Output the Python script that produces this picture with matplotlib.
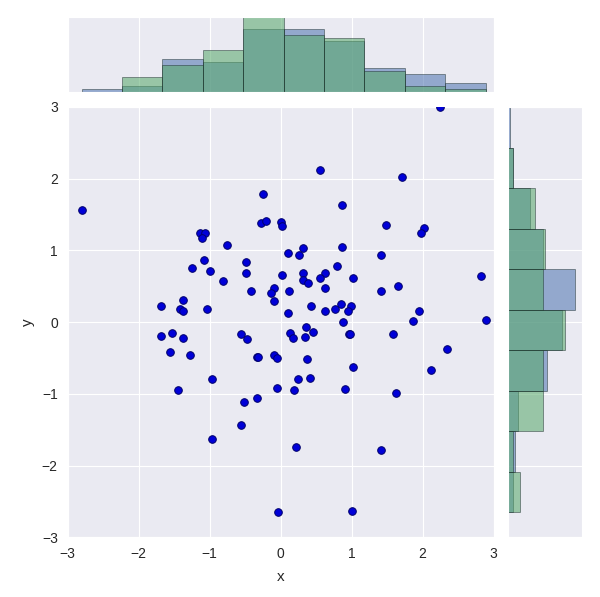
import numpy as np
import matplotlib
matplotlib.use("Agg")
import matplotlib.pyplot as plt
import seaborn as sns

sns.set_style("darkgrid")
plt.rcParams['font.family'] = ['Liberation Sans', 'DejaVu Sans']

# scatter points
x = [-2.80, -0.24, -0.27, -0.20, 0.00, 0.02, -1.14, -1.07, -1.11, -0.75,
     -1.08, -1.24, -0.99, -0.49, -0.49, -0.81, -0.41, -0.09, -0.14, -0.09,
     0.02, -1.69, -1.37, -1.41, -1.37, -1.03, 2.24, 0.56, 1.71, 0.87,
     1.49, 2.02, 1.98, 0.31, 0.11, 0.26, 0.87, 1.42, 0.80, 0.31,
     0.63, 0.32, 0.39, 0.56, 0.62, 1.02, 0.12, 1.42, 1.65, 2.83,
     0.43, 0.85, 0.99, 0.95, 0.77, 0.63, 0.11, 1.95, 1.87, 2.89,
     0.88, 0.14, 0.18, 0.36, 0.35, 0.46, 0.97, 1.58, 2.34, 0.38,
     1.02, 2.12, 0.25, 0.42, 0.19, 0.91, 1.63, 0.22, 1.42, 1.01,
     -0.03, -1.69, -1.53, -1.38, -1.55, -1.28, -0.55, -0.47, -0.33, -0.09,
     -0.05, -0.97, -1.44, -0.05, -0.51, -0.33, -0.56, -0.96, -0.32, 0.98]
y = [1.56, 1.79, 1.38, 1.41, 1.40, 1.34, 1.25, 1.25, 1.18, 1.08,
     0.87, 0.76, 0.72, 0.84, 0.68, 0.58, 0.44, 0.48, 0.41, 0.29,
     0.66, 0.22, 0.31, 0.19, 0.16, 0.19, 3.00, 2.12, 2.03, 1.64,
     1.35, 1.32, 1.24, 1.04, 0.97, 0.94, 1.05, 0.94, 0.79, 0.68,
     0.69, 0.59, 0.54, 0.62, 0.48, 0.62, 0.44, 0.44, 0.50, 0.64,
     0.23, 0.26, 0.22, 0.15, 0.19, 0.15, 0.13, 0.16, 0.02, 0.03,
     0.01, -0.15, -0.22, -0.06, -0.20, -0.13, -0.17, -0.17, -0.37, -0.51,
     -0.62, -0.66, -0.79, -0.78, -0.94, -0.93, -0.98, -1.74, -1.78, -2.63,
     -2.65, -0.19, -0.15, -0.22, -0.41, -0.45, -0.17, -0.23, -0.49, -0.45,
     -0.50, -0.79, -0.94, -0.91, -1.11, -1.05, -1.43, -1.63, -0.48, -0.17]

# second (green) histograms, counts per bin on the same bins
green_top = [0, 5, 9, 14, 25, 19, 18, 7, 2, 1]
green_right = [5, 2, 14, 14, 23, 14, 15, 11, 2, 0]

blue = "#4C72B0"
green = "#55A868"

fig = plt.figure(figsize=(6, 5.97), dpi=100)
ax = fig.add_axes([0.1125, 0.0997, 0.71, 0.7211])
ax_top = fig.add_axes([0.1125, 0.8464, 0.71, 0.1256], sharex=ax)
ax_right = fig.add_axes([0.8467, 0.0997, 0.1233, 0.7211], sharey=ax)

ax.scatter(x, y, s=30, c="#0000d8", edgecolors="#00006a", linewidths=0.7, zorder=3)
ax.set_xlim(-3, 3)
ax.set_ylim(-3, 3)
ax.set_xticks(range(-3, 4))
ax.set_yticks(range(-3, 4))
ax.tick_params(labelsize=10, pad=7, length=0)
ax.set_xlabel("x", fontsize=11, labelpad=6)
ax.set_ylabel("y", fontsize=11, labelpad=5)

xedges = np.histogram_bin_edges(x, 10)
yedges = np.histogram_bin_edges(y, 10)

hist_kw = dict(alpha=0.55, edgecolor="#1a2a2a", linewidth=0.6)
ax_top.hist(x, bins=xedges, color=blue, **hist_kw)
ax_top.hist(xedges[:-1], bins=xedges, weights=green_top, color=green, **hist_kw)
ax_top.set_ylim(0, 25)

ax_right.hist(y, bins=yedges, color=blue, orientation="horizontal", **hist_kw)
ax_right.hist(yedges[:-1], bins=yedges, weights=green_right, color=green,
              orientation="horizontal", **hist_kw)
ax_right.set_xlim(0, 30)

ax_top.yaxis.grid(False)
ax_right.xaxis.grid(False)
for a in (ax_top, ax_right):
    a.tick_params(labelleft=False, labelbottom=False, length=0)

fig.savefig("out.png")
